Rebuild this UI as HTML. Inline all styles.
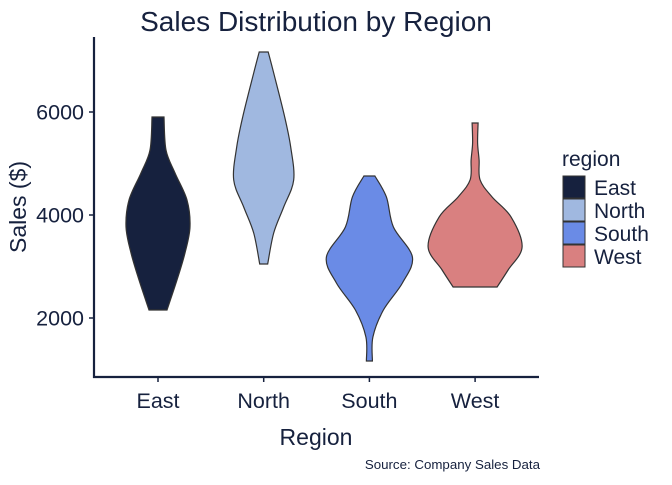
<!DOCTYPE html>
<html><head><meta charset="utf-8"><style>
body{margin:0;background:#fff;}
svg text{font-family:"Liberation Sans",sans-serif;fill:#16213e;}
</style></head><body>
<svg width="672" height="480">
<text x="316" y="31" font-size="28" text-anchor="middle">Sales Distribution by Region</text>
<g id="plot"></g>
<line x1="94" y1="37" x2="94" y2="378" stroke="#16213e" stroke-width="2.2"/>
<line x1="93" y1="377" x2="539" y2="377" stroke="#16213e" stroke-width="2.2"/>
<g id="yt"></g>
<g id="xt"></g>
<text transform="translate(26,207) rotate(-90)" font-size="23" text-anchor="middle">Sales ($)</text>
<text x="316" y="445" font-size="23" text-anchor="middle">Region</text>
<text x="540" y="469" font-size="13.3" text-anchor="end">Source: Company Sales Data</text>
<text x="562" y="166" font-size="21">region</text>
<g id="lg"></g>
</svg>
<script>
const categories=["East","North","South","West"];
const colors=["#16213e","#a0b8e0","#6a8be6","#d98080"];
const eastSales=[5903,5262,4816,4291,3767,3262,2738,2155];
const eastDens=[6,8,17,29,32,27,19,9];
const northSales=[7165,6757,5903,5320,4680,4155,3650,3049];
const northDens=[4.5,10,21,27,30,20,10,4];
const southSales=[4757,4350,3767,3184,2680,2155,1631,1165];
const southDens=[5.5,17,24,43,33,14,3.5,3];
const westSales=[5786,5398,5068,4680,4350,3961,3379,2932,2602];
const westDens=[3,2.5,4,5,17,36,47,33,22];
const yTicks=[2000,4000,6000];
const series=[[eastSales,eastDens],[northSales,northDens],[southSales,southDens],[westSales,westDens]];
const NS="http://www.w3.org/2000/svg";
const y=v=>318-(v-2000)*0.0515;
const x=i=>158+i*105.7;
const w=d=>d;
function spline(pts){
  let d="";
  for(let i=0;i<pts.length-1;i++){
    const p0=pts[Math.max(0,i-1)],p1=pts[i],p2=pts[i+1],p3=pts[Math.min(pts.length-1,i+2)];
    const c1=[p1[0]+(p2[0]-p0[0])/6,p1[1]+(p2[1]-p0[1])/6];
    const c2=[p2[0]-(p3[0]-p1[0])/6,p2[1]-(p3[1]-p1[1])/6];
    d+=` C${c1[0]},${c1[1]} ${c2[0]},${c2[1]} ${p2[0]},${p2[1]}`;
  }
  return d;
}
const plot=document.getElementById("plot");
series.forEach((s,i)=>{
  const cx=x(i);
  const right=s[0].map((v,k)=>[cx+w(s[1][k]),y(v)]);
  const left=s[0].map((v,k)=>[cx-w(s[1][k]),y(v)]).reverse();
  let d=`M${right[0][0]},${right[0][1]}`+spline(right)+` L${left[0][0]},${left[0][1]}`+spline(left)+"Z";
  const p=document.createElementNS(NS,"path");
  p.setAttribute("d",d);p.setAttribute("fill",colors[i]);p.setAttribute("stroke","#333");p.setAttribute("stroke-width","1.2");
  
  
  plot.appendChild(p);
  const t=document.createElementNS(NS,"text");
  t.setAttribute("x",cx);t.setAttribute("y",408);t.setAttribute("font-size","21.5");t.setAttribute("text-anchor","middle");
  t.textContent=categories[i];
  
  
  document.getElementById("xt").appendChild(t);
  const tk=document.createElementNS(NS,"line");
  tk.setAttribute("x1",cx);tk.setAttribute("x2",cx);tk.setAttribute("y1",377);tk.setAttribute("y2",382);tk.setAttribute("stroke","#16213e");tk.setAttribute("stroke-width","1.5");
  
  
  document.getElementById("xt").appendChild(tk);
  const lg=document.getElementById("lg");
  const r=document.createElementNS(NS,"rect");
  r.setAttribute("x",563);r.setAttribute("y",176+i*23);r.setAttribute("width",22);r.setAttribute("height",22);r.setAttribute("fill",colors[i]);r.setAttribute("stroke","#333");
  
  
  lg.appendChild(r);
  const lt=document.createElementNS(NS,"text");
  lt.setAttribute("x",594);lt.setAttribute("y",195+i*23);lt.setAttribute("font-size","21");lt.textContent=categories[i];
  
  
  lg.appendChild(lt);
});
yTicks.forEach(v=>{
  const t=document.createElementNS(NS,"text");
  t.setAttribute("x",84);t.setAttribute("y",y(v)+7.5);t.setAttribute("font-size","21.5");t.setAttribute("text-anchor","end");t.textContent=v;
  
  
  document.getElementById("yt").appendChild(t);
  const l=document.createElementNS(NS,"line");
  l.setAttribute("x1",89);l.setAttribute("x2",94);l.setAttribute("y1",y(v));l.setAttribute("y2",y(v));l.setAttribute("stroke","#16213e");l.setAttribute("stroke-width","1.5");
  
  
  document.getElementById("yt").appendChild(l);
});
</script>
</body></html>
